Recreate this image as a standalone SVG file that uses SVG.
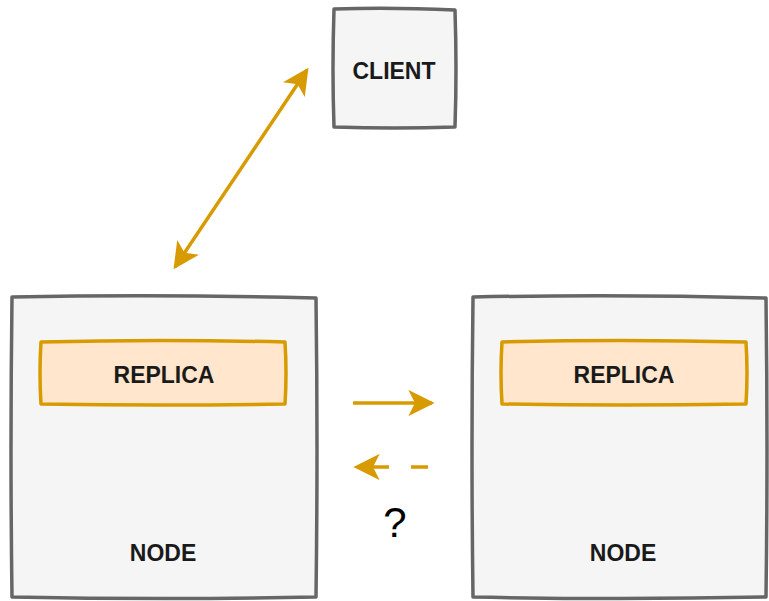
<svg xmlns="http://www.w3.org/2000/svg" width="769" height="601" viewBox="0 0 769 601">
<defs>
<style>
.box{fill:#f5f5f5;stroke:#666666;stroke-width:3.5;stroke-linejoin:round}
.rep{fill:#ffe6cc;stroke:#d79b00;stroke-width:3.5;stroke-linejoin:round}
.lbl{font-family:"Liberation Sans",Arial,sans-serif;font-weight:bold;font-size:23px;fill:#1a1a1a;text-anchor:middle}
.con{fill:none;stroke:#d79b00;stroke-width:3.5}
</style>
<marker id="ah" viewBox="0 0 10 10" refX="9" refY="5" markerWidth="7.5" markerHeight="7.5" orient="auto-start-reverse" markerUnits="strokeWidth">
<path d="M0,0 L10,5 L0,10 L2.5,5 Z" fill="#d79b00"/>
</marker>
</defs>
<rect width="769" height="601" fill="#ffffff"/>
<g id="client">
<path class="box" d="M334,9 Q390,7 455,10 Q457,70 455,127 Q395,129 334,127 Q332,70 334,9 Z"/>
<text class="lbl" x="394" y="79">CLIENT</text>
</g>
<g id="node-left">
<path class="box" d="M12,297 Q160,294 316,298 Q318,450 316,597 Q165,600 12,597 Q10,450 12,297 Z"/>
<text class="lbl" x="163" y="561">NODE</text>
</g>
<g id="replica-left">
<path class="rep" d="M41,342 Q160,339 285,342 Q287,373 285,404 Q160,406 41,404 Q39,373 41,342 Z"/>
<text class="lbl" x="164" y="383">REPLICA</text>
</g>
<g id="node-right">
<path class="box" d="M473,297 Q620,294 766,298 Q768,450 766,597 Q620,600 473,597 Q471,450 473,297 Z"/>
<text class="lbl" x="623" y="561">NODE</text>
</g>
<g id="replica-right">
<path class="rep" d="M502,342 Q620,339 746,342 Q748,373 746,404 Q620,406 502,404 Q500,373 502,342 Z"/>
<text class="lbl" x="624" y="383">REPLICA</text>
</g>
<g id="connectors">
<line class="con" x1="307" y1="70" x2="175" y2="267" marker-start="url(#ah)" marker-end="url(#ah)"/>
<line class="con" x1="353" y1="403" x2="432" y2="403" marker-end="url(#ah)"/>
<line class="con" x1="428" y1="467" x2="356" y2="467" stroke-dasharray="17,22" marker-end="url(#ah)"/>
</g>
<text x="395" y="537" font-family="Liberation Sans,Arial,sans-serif" font-size="42" fill="#000000" text-anchor="middle">?</text>
</svg>
